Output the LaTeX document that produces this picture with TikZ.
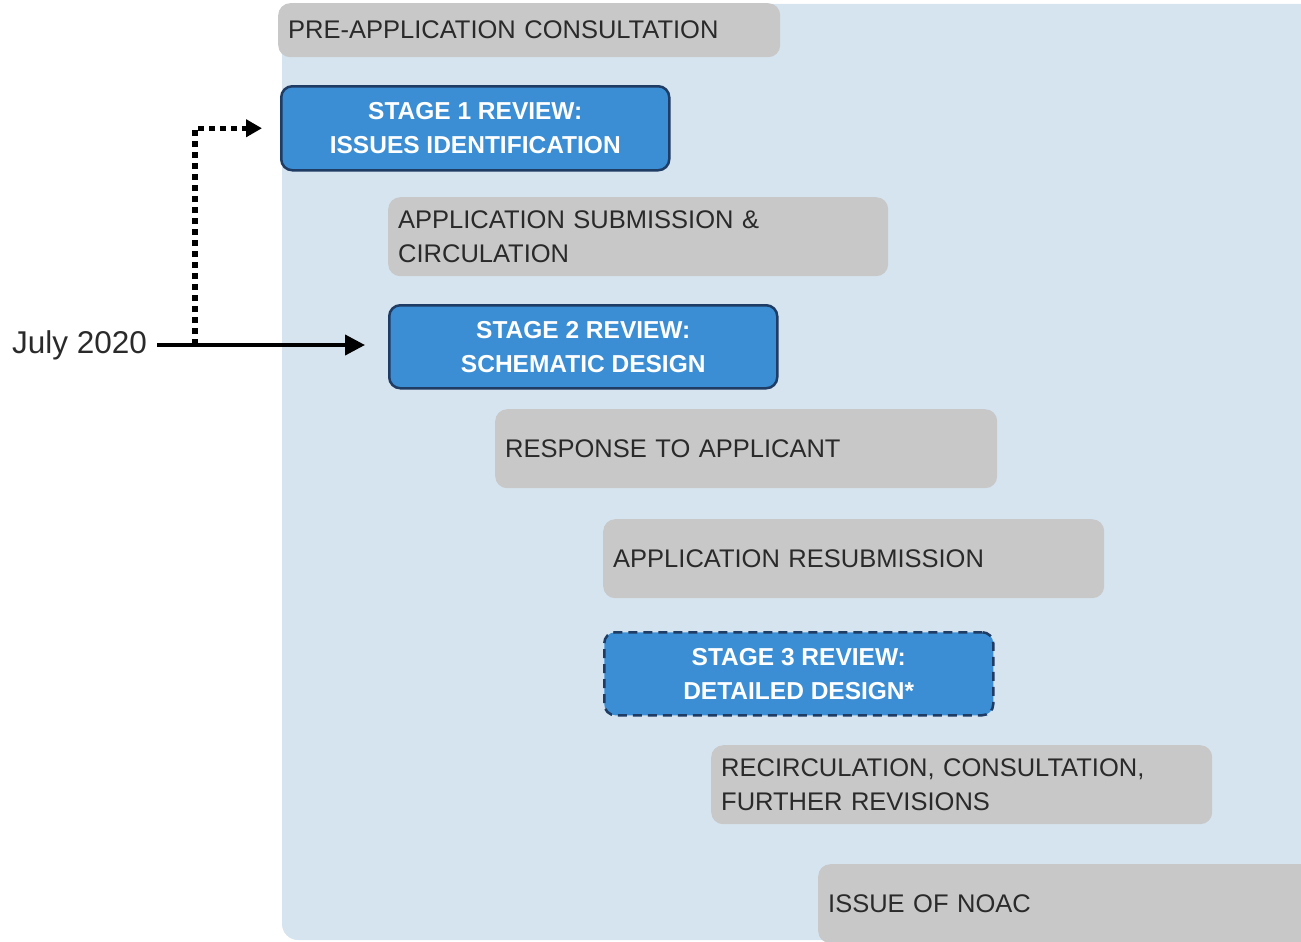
\documentclass[tikz,border=0pt]{standalone}
\usepackage{fontspec}
\setmainfont{Liberation Sans}
\usetikzlibrary{arrows.meta}
\definecolor{bgblue}{HTML}{D6E4F0}
\definecolor{boxgray}{HTML}{C8C8C8}
\definecolor{stageblue}{HTML}{3B8ED4}
\definecolor{stageedge}{HTML}{1E3C64}
\definecolor{graytext}{HTML}{2A2A2A}
\tikzset{
  graybox/.style={anchor=north west, fill=boxgray, rounded corners=12pt, draw=none,
    inner xsep=10pt, inner ysep=0pt, align=left, text=graytext,
    font=\fontsize{25.5}{34}\selectfont},
  stagebox/.style={anchor=north west, fill=stageblue, draw=stageedge, line width=2.5pt,
    rounded corners=11pt, inner sep=0pt, align=center, text=white,
    font=\fontsize{24.5}{34}\bfseries\selectfont},
  solidarrow/.style={line width=4pt, -{Triangle[length=20pt,width=20pt]}},
  dotarrow/.style={line width=5.5pt, dash pattern=on 6pt off 5pt, -{Triangle[length=16pt,width=17pt]}}
}
\begin{document}
\begin{tikzpicture}[x=1pt,y=-1pt]
\useasboundingbox (0,0) rectangle (1301,942);
\clip (0,0) rectangle (1301,942);
\fill[bgblue, rounded corners=16pt] (282,4) rectangle (1330,940);
\node[graybox, text width=482pt, minimum height=54pt] (pre) at (278,3) {PRE-APPLICATION CONSULTATION};
\node[stagebox, minimum width=388pt, minimum height=84pt] (s1) at (280,85) {STAGE 1 REVIEW:\\ISSUES IDENTIFICATION};
\node[graybox, text width=480pt, minimum height=79pt] (sub) at (388,197) {APPLICATION SUBMISSION \&\\CIRCULATION};
\node[stagebox, minimum width=388pt, minimum height=83pt] (s2) at (388,304) {STAGE 2 REVIEW:\\SCHEMATIC DESIGN};
\node[graybox, text width=482pt, minimum height=79pt] (resp) at (495,409) {RESPONSE TO APPLICANT};
\node[graybox, text width=481pt, minimum height=79pt] (resub) at (603,519) {APPLICATION RESUBMISSION};
\node[stagebox, dashed, dash pattern=on 9pt off 6pt, minimum width=389pt, minimum height=83pt] (s3) at (603,631) {STAGE 3 REVIEW:\\DETAILED DESIGN*};
\node[graybox, text width=481pt, minimum height=79pt] (recirc) at (711,745) {RECIRCULATION, CONSULTATION,\\FURTHER REVISIONS};
\node[graybox, text width=500pt, minimum height=79pt] (noac) at (818,864) {ISSUE OF NOAC};
\node[anchor=west, inner sep=0pt, text=graytext, font=\fontsize{31.5}{36}\selectfont] (july) at (12,345) {July 2020};
\coordinate (branch) at (195,345);
\draw[solidarrow, shorten <=10pt, shorten >=23pt] (july.east) -- (july.east -| s2.west);
\draw[dotarrow, shorten >=18pt] (branch) |- (s1.west);
\end{tikzpicture}
\end{document}
